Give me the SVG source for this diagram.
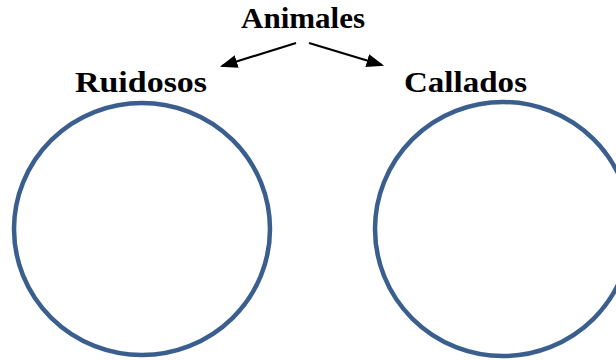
<svg xmlns="http://www.w3.org/2000/svg" width="616" height="360" viewBox="0 0 616 360">
<style>
.lbl{font-family:"Liberation Serif","DejaVu Serif",serif;font-weight:bold;font-size:29px;fill:#000}
.circ{fill:none;stroke:#3a5f8f;stroke-width:4.5}
.conn{stroke:#000;stroke-width:2.2;fill:none;marker-end:url(#ah)}
</style>
<defs>
<marker id="ah" markerWidth="8" markerHeight="6" refX="7" refY="3" orient="auto" markerUnits="strokeWidth">
<path d="M0,0 L8,3 L0,6 z" fill="#000"/>
</marker>
</defs>
<rect width="616" height="360" fill="#fff"/>
<g id="animales"><text class="lbl" x="241" y="28" textLength="124" lengthAdjust="spacingAndGlyphs">Animales</text></g>
<g id="ruidosos">
<text class="lbl" x="75" y="92" textLength="132" lengthAdjust="spacingAndGlyphs">Ruidosos</text>
<ellipse class="circ" cx="142" cy="229" rx="128" ry="126"/>
</g>
<g id="callados">
<text class="lbl" x="404" y="92" textLength="123" lengthAdjust="spacingAndGlyphs">Callados</text>
<ellipse class="circ" cx="503" cy="229" rx="128" ry="127"/>
</g>
<g id="connectors">
<line class="conn" x1="296" y1="43" x2="222" y2="66"/>
<line class="conn" x1="309" y1="43" x2="382" y2="65"/>
</g>
</svg>
